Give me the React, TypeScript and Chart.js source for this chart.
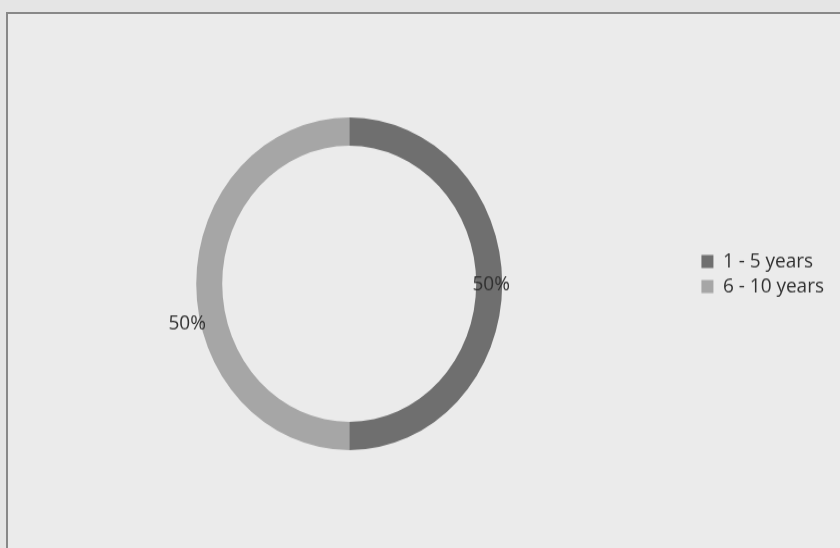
import React, { useEffect, useRef } from "react";
import { Chart, registerables } from "chart.js";

Chart.register(...registerables);

const categories = ["1 - 5 years", "6 - 10 years"];
const values = [50, 50];
const percentLabels = ["50%", "50%"];
const colors = ["#6f6f6f", "#a6a6a6"];

const FONT = "'Open Sans', 'Noto Sans', sans-serif";

const labelPlugin = {
  id: "pctLabels",
  afterLayout(chart: any) {
    const lg = chart.legend;
    if (lg) {
      lg.top -= 9;
      lg.bottom -= 9;
    }
  },
  afterDatasetsDraw(chart: any) {
    const meta = chart.getDatasetMeta(0);
    const ctx = chart.ctx;
    const shifts = [
      [2, 1],
      [-22, 37],
    ];
    ctx.save();
    ctx.font = `19px ${FONT}`;
    ctx.fillStyle = "#303030";
    ctx.textAlign = "center";
    ctx.textBaseline = "middle";
    meta.data.forEach((arc: any, i: number) => {
      const p = arc.tooltipPosition();
      ctx.fillText(percentLabels[i], p.x + shifts[i][0], p.y + shifts[i][1]);
    });
    ctx.restore();
  },
};

export default function App() {
  const ref = useRef<HTMLCanvasElement>(null);
  useEffect(() => {
    if (!ref.current) return;
    const chart = new Chart(ref.current, {
      type: "doughnut",
      data: {
        labels: categories,
        datasets: [
          {
            data: values,
            backgroundColor: colors,
            borderWidth: 0,
          },
        ],
      },
      options: {
        responsive: false,
        animation: false,
        devicePixelRatio: 1,
        cutout: "83%",
        layout: { padding: { left: 1, right: 6, top: 108, bottom: 90 } },
        plugins: {
          tooltip: { enabled: false },
          legend: {
            position: "right",
            labels: {
              boxWidth: 12,
              boxHeight: 12,
              padding: 4,
              color: "#303030",
              font: { size: 19, family: FONT },
            },
          },
        },
      },
      plugins: [labelPlugin],
    });
    return () => chart.destroy();
  }, []);

  return (
    <div
      style={{
        position: "fixed",
        left: 0,
        top: 0,
        width: 840,
        height: 548,
        background: "#e5e5e5",
        overflow: "hidden",
      }}
    >
      <div
        style={{
          position: "absolute",
          left: 6,
          top: 12,
          width: 900,
          height: 600,
          border: "2px solid #888888",
          background: "#ebebeb",
        }}
      />
      <canvas
        ref={ref}
        width={840}
        height={504}
        style={{
          position: "absolute",
          left: 0,
          top: 0,
          width: 840,
          height: 504,
          transform: `scaleY(${548 / 504})`,
          transformOrigin: "0 0",
        }}
      />
    </div>
  );
}
